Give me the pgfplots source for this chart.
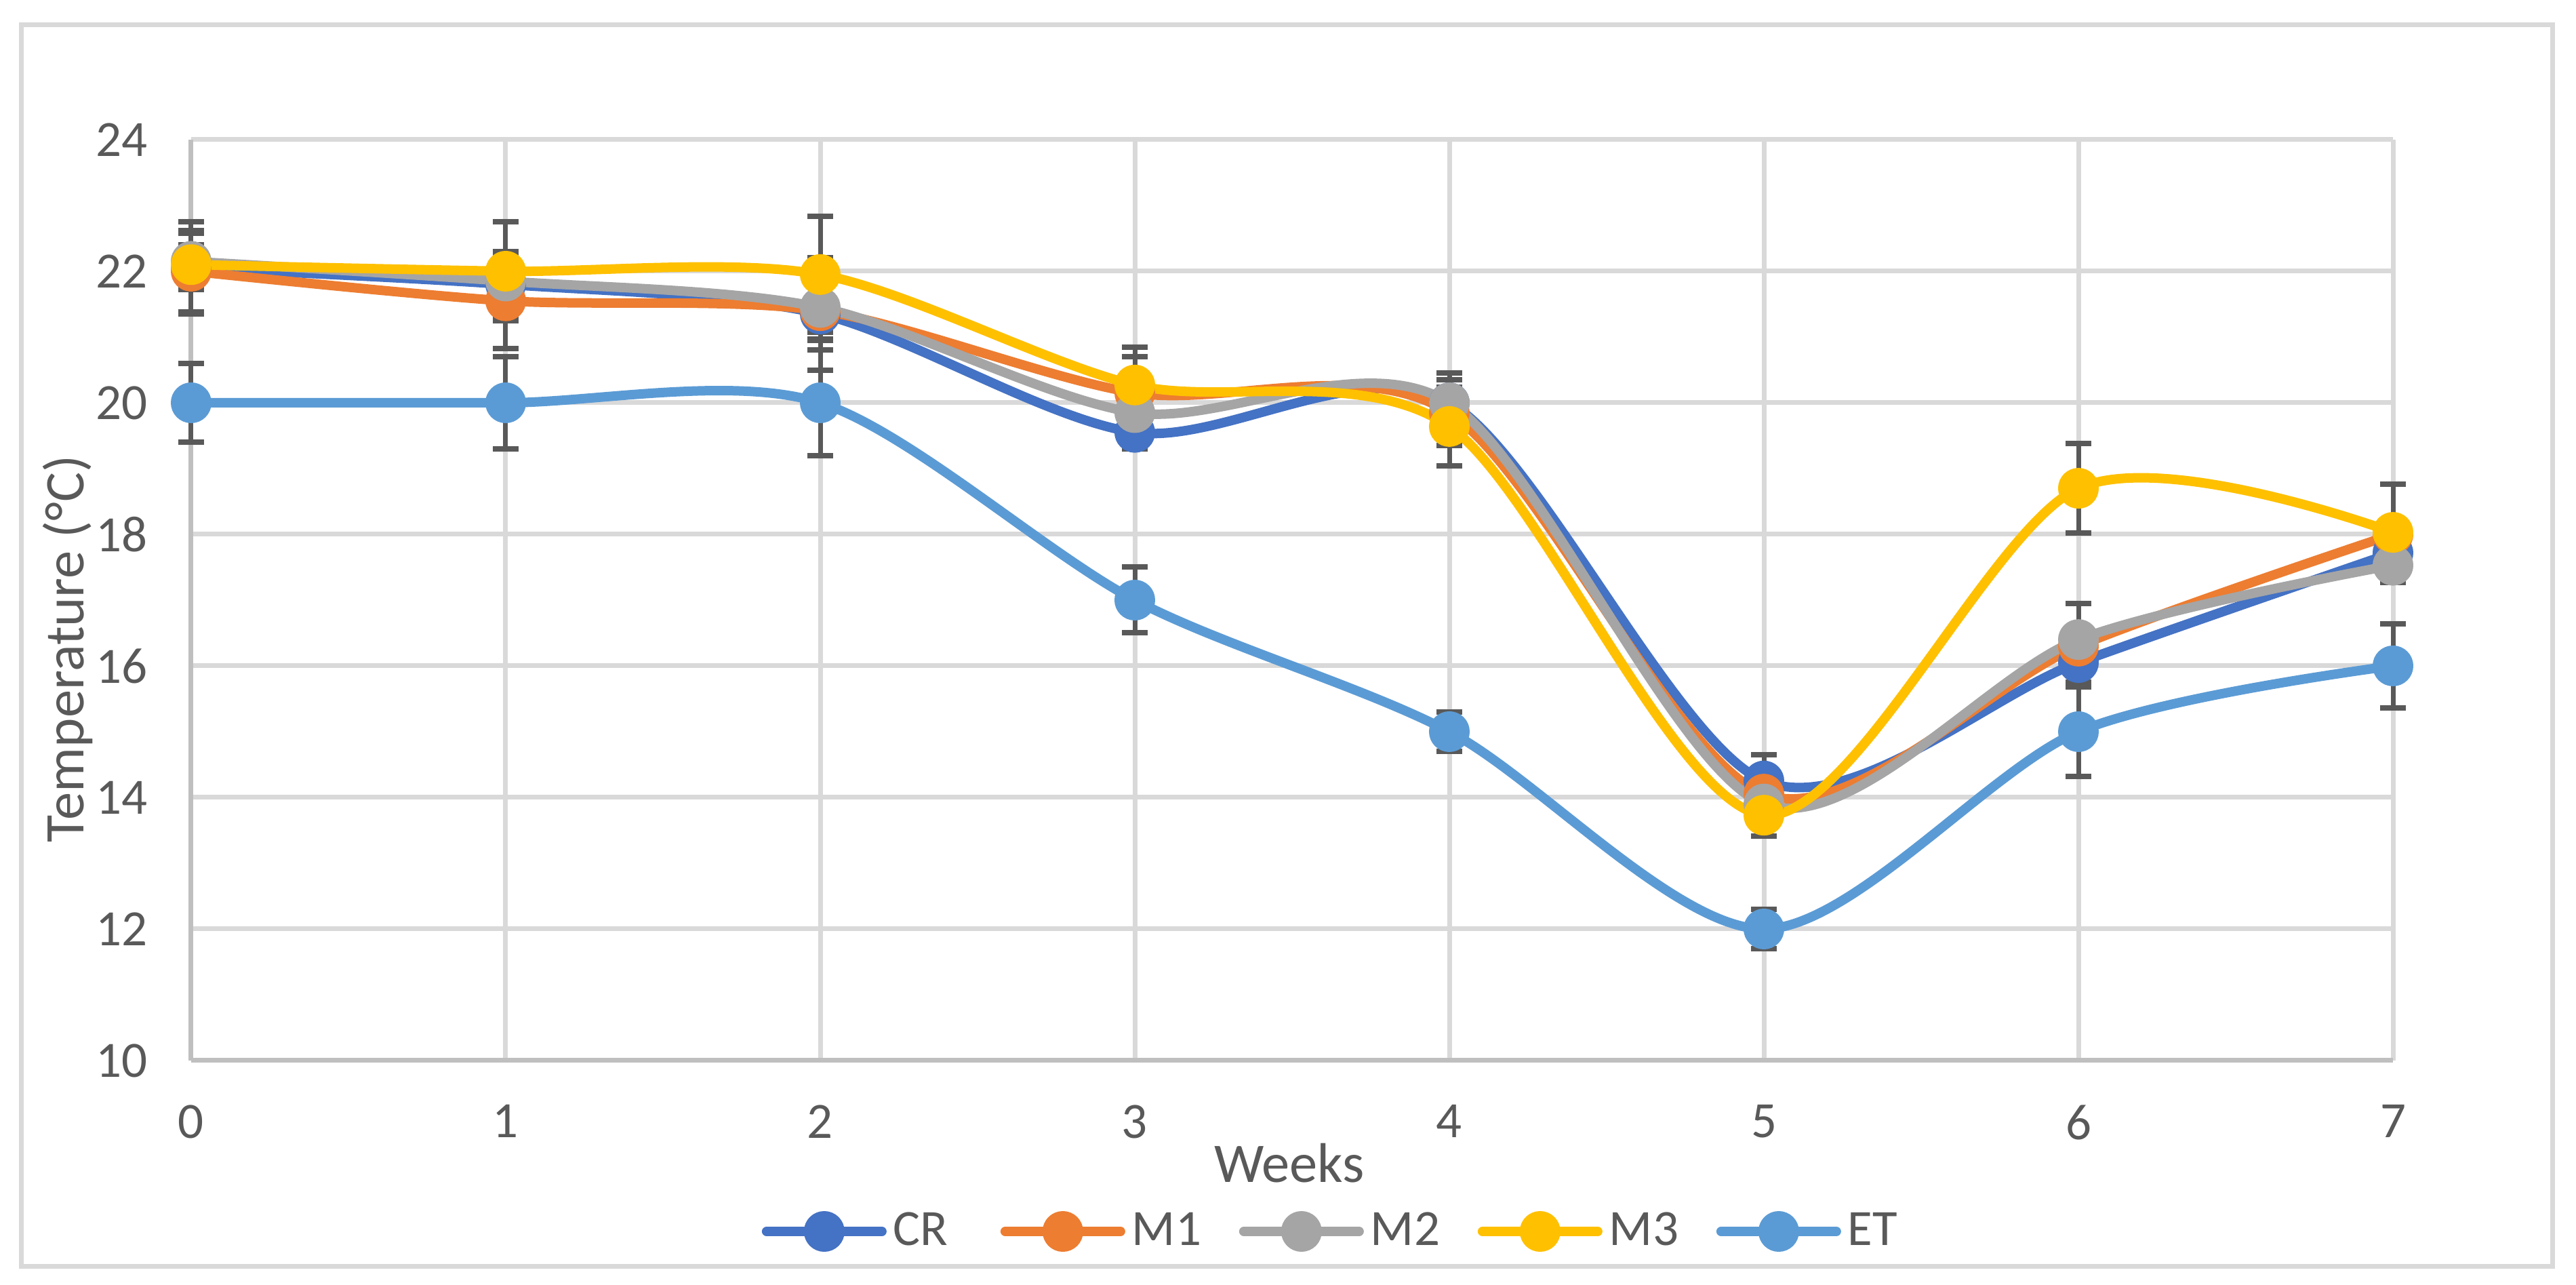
\documentclass[border=0pt]{standalone}
\usepackage{fontspec}
\setmainfont{Carlito}
\usepackage{pgfplots}
\pgfplotsset{compat=1.18}
\definecolor{cCR}{HTML}{4472C4}
\definecolor{cMa}{HTML}{ED7D31}
\definecolor{cMb}{HTML}{A5A5A5}
\definecolor{cMc}{HTML}{FFC000}
\definecolor{cET}{HTML}{5B9BD5}
\definecolor{textgray}{HTML}{595959}
\definecolor{gridgray}{HTML}{D9D9D9}
\definecolor{axisgray}{HTML}{BFBFBF}
\definecolor{errgray}{HTML}{595959}
\begin{document}
\begin{tikzpicture}
\useasboundingbox (-56.4pt,-66.2pt) rectangle (703.6pt,312.8pt);
\draw[gridgray, line width=1.4pt] (-50pt,-60.8pt) rectangle (696.6pt,305.4pt);
\begin{axis}[
  at={(0pt,0pt)}, anchor=south west,
  scale only axis, width=649.6pt, height=271.6pt,
  xmin=0, xmax=7, ymin=10, ymax=24,
  clip=false,
  axis x line*=bottom, axis y line*=left,
  x axis line style={-, draw=axisgray, line width=1.4pt},
  y axis line style={-, draw=axisgray, line width=1.4pt},
  grid=major, major grid style={draw=gridgray, line width=1.4pt},
  major tick length=0pt,
  xtick={0,...,7}, ytick={10,12,...,24},
  tick label style={font=\fontsize{15}{18}\selectfont, text=textgray},
  /pgf/number format/assume math mode=true,
  xticklabel style={yshift=-9.6pt},
  yticklabel style={xshift=-9.4pt},
  xlabel={Weeks}, ylabel={Temperature (°C)},
  xlabel style={at={(rel axis cs:0.4988,-0.111)}, anchor=center, font=\fontsize{16.5}{19}\selectfont, text=textgray},
  ylabel style={at={(rel axis cs:-0.056,0.447)}, anchor=center, font=\fontsize{16.5}{19}\selectfont, text=textgray},
  legend columns=5,
  legend style={at={(0.2589,-0.1856)}, anchor=west, draw=none, fill=none, inner sep=0pt,
    font=\fontsize{15}{18}\selectfont, text=textgray,
    /tikz/every even column/.append style={column sep=0pt},
    nodes={inner sep=2pt}},
  legend image code/.code={\draw[mark repeat=2,mark phase=2] plot coordinates {(0pt,0pt) (17pt,0pt) (34pt,0pt)};},
  every axis plot/.append style={line width=2.8pt, smooth, tension=0.5, line cap=round, line join=round, mark=*, mark size=4.6pt},
  error bars/y dir=both, error bars/y explicit,
  error bars/error bar style={line width=1.4pt, draw=errgray, solid},
  error bars/error mark options={line width=1.6pt, mark size=3.8pt, draw=errgray, rotate=90},
]
\addplot[color=cCR, mark options={draw=none, fill=cCR}] coordinates {
 (0,22.05) +- (0,0.70) (1,21.80) +- (0,0.50) (2,21.35) +- (0,0.86) (3,19.55) +- (0,0.25)
 (4,20.00) +- (0,0.45) (5,14.25) +- (0,0.40) (6,16.05) +- (0,0.30) (7,17.72) +- (0,0.45)};
\addlegendentry{\makebox[29.6pt][l]{CR}}
\addplot[color=cMa, mark options={draw=none, fill=cMa}] coordinates {
 (0,22.00) +- (0,0.62) (1,21.55) +- (0,0.73) (2,21.40) +- (0,0.43) (3,20.15) +- (0,0.55)
 (4,19.85) +- (0,0.50) (5,14.05) +- (0,0.30) (6,16.30) +- (0,0.20) (7,18.00) +- (0,0.20)};
\addlegendentry{\makebox[29.6pt][l]{M1}}
\addplot[color=cMb, mark options={draw=none, fill=cMb}] coordinates {
 (0,22.15) +- (0,0.43) (1,21.85) +- (0,0.30) (2,21.45) +- (0,0.50) (3,19.85) +- (0,0.30)
 (4,20.00) +- (0,0.45) (5,13.90) +- (0,0.30) (6,16.40) +- (0,0.55) (7,17.53) +- (0,0.25)};
\addlegendentry{\makebox[29.6pt][l]{M2}}
\addplot[color=cMc, mark options={draw=none, fill=cMc}] coordinates {
 (0,22.10) +- (0,0.30) (1,22.00) +- (0,0.75) (2,21.95) +- (0,0.88) (3,20.27) +- (0,0.57)
 (4,19.64) +- (0,0.60) (5,13.73) +- (0,0.32) (6,18.70) +- (0,0.68) (7,18.03) +- (0,0.73)};
\addlegendentry{\makebox[29.6pt][l]{M3}}
\addplot[color=cET, mark options={draw=none, fill=cET}] coordinates {
 (0,20.00) +- (0,0.60) (1,20.00) +- (0,0.70) (2,20.00) +- (0,0.80) (3,17.00) +- (0,0.50)
 (4,15.00) +- (0,0.30) (5,12.00) +- (0,0.30) (6,15.00) +- (0,0.68) (7,16.00) +- (0,0.64)};
\addlegendentry{\makebox[29.6pt][l]{ET}}
\end{axis}
\end{tikzpicture}
\end{document}
